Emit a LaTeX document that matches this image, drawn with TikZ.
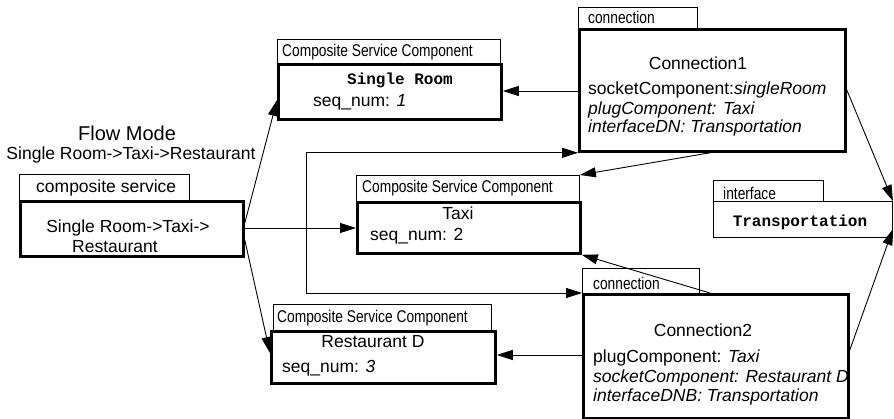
\documentclass[tikz,border=0pt]{standalone}
\usepackage{fontspec}
\setmainfont{Liberation Sans}
\setmonofont{Liberation Mono}
\newfontfamily\narrowfont[FakeStretch=0.81]{Liberation Sans}
\usetikzlibrary{arrows.meta,calc}

\tikzset{
  tabbox/.style={draw, line width=0.9pt, inner sep=0pt, anchor=north west},
  panel/.style={draw, line width=2.8pt, inner sep=0pt, anchor=north west},
  thinpanel/.style={draw, line width=0.9pt, inner sep=0pt, anchor=north west},
  link/.style={line width=0.9pt},
  arr/.style={link, -{Triangle[length=16pt,width=10pt]}},
  lbl/.style={inner sep=0pt, font=\fontsize{17.5}{20}\selectfont},
  lline/.style={lbl, anchor=west},
  tablbl/.style={inner sep=0pt, anchor=west, font=\narrowfont\fontsize{17}{20}\selectfont},
  monolbl/.style={inner sep=0pt, font=\ttfamily\bfseries\fontsize{16}{18}\selectfont},
}

\begin{document}
\begin{tikzpicture}[x=1pt,y=-1pt]
\useasboundingbox (0,0) rectangle (894,419);

% ---- composite service ----
\node[tabbox, minimum width=170pt, minimum height=26pt] (cstab) at (19,174) {};
\node[panel, minimum width=223pt, minimum height=55pt] (cs) at (19,200) {};
\node[tablbl, font=\fontsize{17.5}{20}\selectfont] (cstxt) at (36,188) {composite service};
\node[lbl] (csl1) at (128,228) {Single Room->Taxi->};
\node[lbl] (csl2) at (115,247) {Restaurant};

% ---- heading ----
\node[inner sep=0pt, font=\fontsize{20}{24}\selectfont] (mode) at (127,133) {Flow Mode};
\node[lbl] (modeseq) at (131,155) {Single Room->Taxi->Restaurant};

% ---- Single Room component ----
\node[tabbox, minimum width=223pt, minimum height=24pt] (srtab) at (277,39) {};
\node[panel, minimum width=223pt, minimum height=55pt] (sr) at (277,63) {};
\node[tablbl] (srtxt) at (282,52) {Composite Service Component};
\node[monolbl] (srname) at (400,80) {Single Room};
\node[lline] (srseq) at (313,102) {seq\_num: \textit{1}};

% ---- Taxi component ----
\node[tabbox, minimum width=223pt, minimum height=26pt] (taxitab) at (356,175) {};
\node[panel, minimum width=223pt, minimum height=51pt] (taxi) at (356,201) {};
\node[tablbl] (taxitxt) at (362,188) {Composite Service Component};
\node[lbl] (taxiname) at (458,213) {Taxi};
\node[lline] (taxiseq) at (370,236) {seq\_num: 2};

% ---- Restaurant D component ----
\node[tabbox, minimum width=218pt, minimum height=26pt] (resttab) at (273,304) {};
\node[panel, minimum width=224pt, minimum height=52pt] (rest) at (270,330) {};
\node[tablbl] (resttxt) at (277,318) {Composite Service Component};
\node[lbl] (restname) at (373,342) {Restaurant D};
\node[lline] (restseq) at (282,368) {seq\_num: \textit{3}};

% ---- Connection1 ----
\node[tabbox, minimum width=119pt, minimum height=21pt] (c1tab) at (578,7) {};
\node[panel, minimum width=266pt, minimum height=122pt] (c1) at (578,28) {};
\node[tablbl] (c1txt) at (588,17) {connection};
\node[lbl] (c1name) at (698,63) {Connection1};
\node[lline] (c1a) at (588,90) {socketComponent:\textit{singleRoom}};
\node[lline] (c1b) at (588,110) {\textit{plugComponent: Taxi}};
\node[lline] (c1c) at (588,128) {\textit{interfaceDN: Transportation}};

% ---- Connection2 ----
\node[tabbox, minimum width=117pt, minimum height=25pt] (c2tab) at (582,268) {};
\node[panel, minimum width=265pt, minimum height=124pt] (c2) at (582,293) {};
\node[tablbl] (c2txt) at (593,283) {connection};
\node[lbl] (c2name) at (703,330) {Connection2};
\node[lline] (c2a) at (593,358) {plugComponent: \textit{Taxi}};
\node[lline] (c2b) at (593,378) {\textit{socketComponent: Restaurant D}};
\node[lline] (c2c) at (593,397) {\textit{interfaceDNB: Transportation}};

% ---- interface ----
\node[tabbox, minimum width=110pt, minimum height=21pt] (iftab) at (713,180) {};
\node[thinpanel, minimum width=179pt, minimum height=36pt] (iface) at (713,201) {};
\node[tablbl] (iftxt) at (723,193) {interface};
\node[monolbl] (ifname) at (800,222) {Transportation};

% ---- connectors ----
\coordinate (fork) at (306,228);
\draw[arr] (cs.east |- fork) -- (taxi.west |- fork);
\draw[arr] (fork) |- (c1.south west);
\draw[arr] (fork) |- (c2.north west);
\draw[arr] (cs.east |- 0,223) -- (sr.west |- 0,100);
\draw[arr] (cs.east |- 0,240) -- (rest.west |- 0,353);
\draw[arr] (c1.west |- 0,91) -- (sr.east |- 0,91);
\draw[arr] (c2.west |- 0,355) -- (rest.east |- 0,355);
\draw[arr] (c1.south -| 710,0) -- (taxitab.north east);
\draw[arr] (c2.north -| 710,0) -- (taxi.south east);
\draw[arr] (c1.east |- 0,90) -- (iface.north east);
\draw[arr] (c2.east |- 0,350) -- (iface.east |- 0,229);
\end{tikzpicture}
\end{document}
